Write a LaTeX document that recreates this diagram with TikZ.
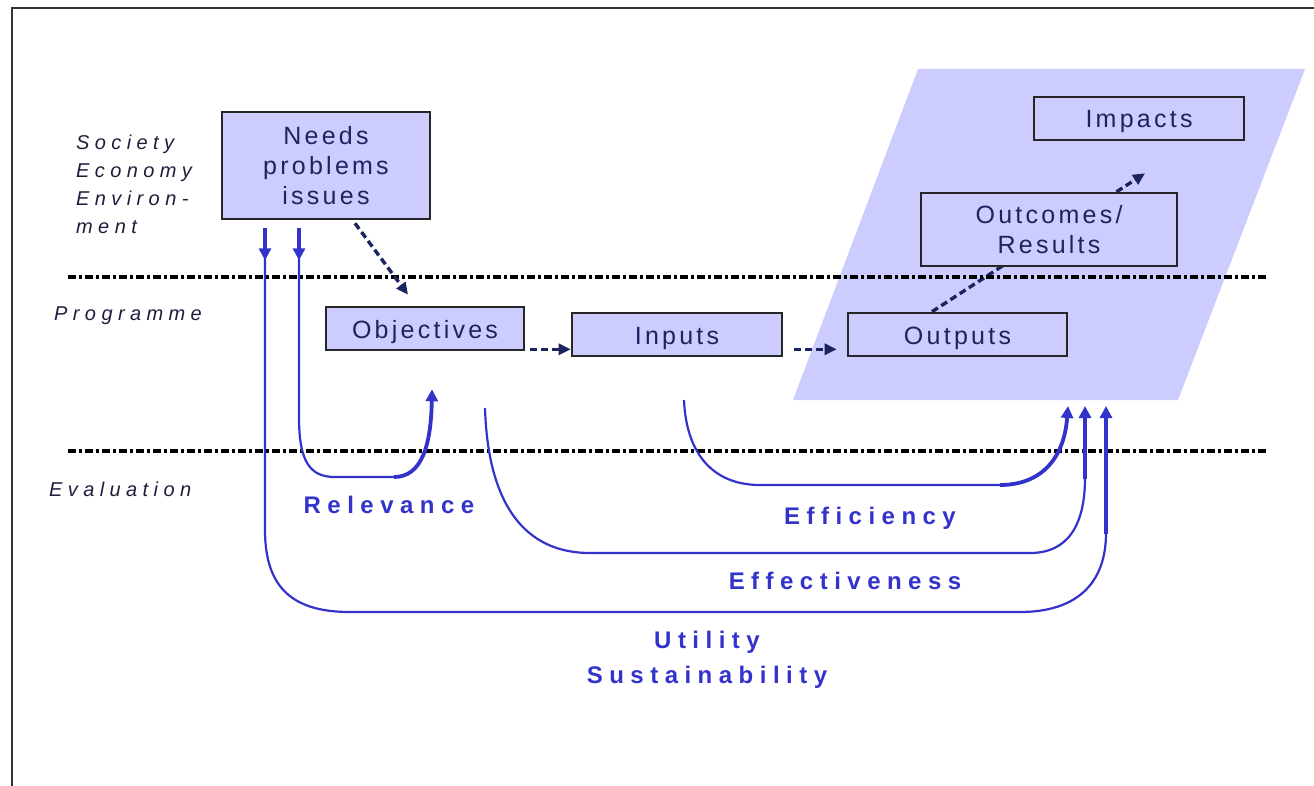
\documentclass[tikz,border=0pt]{standalone}
\usepackage{fontspec}
\usetikzlibrary{arrows.meta,backgrounds,calc}
\newfontfamily\boxfont[LetterSpace=13]{Liberation Sans}
\newfontfamily\labfont[LetterSpace=27]{Liberation Sans}
\newfontfamily\sidefont[LetterSpace=27]{Liberation Sans}
\definecolor{lav}{RGB}{204,204,255}
\definecolor{bl}{RGB}{51,51,204}
\definecolor{navy}{RGB}{28,36,96}
\definecolor{sidec}{RGB}{30,30,60}
\tikzset{
  box/.style={draw=black!85, line width=2.6pt, fill=lav, inner sep=0pt, align=center,
    text=navy, font=\boxfont\fontsize{25}{30}\selectfont},
  oneline/.style={text height=24pt, text depth=5pt},
  side/.style={inner sep=0pt, anchor=west, align=left, text=sidec,
    font=\sidefont\itshape\fontsize{20}{28}\selectfont},
  lab/.style={inner sep=0pt, align=center, text=bl,
    font=\labfont\bfseries\fontsize{24}{35}\selectfont},
  dasharrow/.style={draw=navy, line width=3.4pt, dash pattern=on 7pt off 4pt,
    -{Triangle[length=12pt,width=11pt]}},
  dashline/.style={draw=black, line width=3.4pt, dash pattern=on 8pt off 3pt on 3pt off 3pt},
  thinb/.style={draw=bl, line width=2.2pt},
  thickb/.style={draw=bl, line width=3.8pt},
  btip/.style={-{Triangle[length=12pt,width=12pt]}},
}
\begin{document}
\begin{tikzpicture}[x=1pt,y=-1pt]
\useasboundingbox (0,0) rectangle (1314,786);
% frame
\draw[line width=2.6pt, black!80] (12,786) -- (12,8) -- (1314,8);

% separator lines
\draw[dashline] (68,277) -- (1266,277);
\draw[dashline] (68,451) -- (1266,451);

% side labels
\node[side] (soc) at (76,184) {Society\\Economy\\Environ-\\ment};
\node[side] (prog) at (54,316) {Programme};
\node[side] (eval) at (49,489) {Evaluation};

% boxes
\node[box, minimum width=208pt, minimum height=107pt] (needs) at (326,165.5) {Needs\\problems\\issues};
\node[box, oneline, minimum width=198pt, minimum height=43pt] (obj) at (425,328.5) {Objectives};
\node[box, oneline, minimum width=210pt, minimum height=43pt] (inp) at (677,334.5) {Inputs};
\node[box, oneline, minimum width=219pt, minimum height=43pt] (out) at (957.5,334.5) {Outputs};
\node[box, minimum width=256pt, minimum height=73pt] (outc) at (1049,229.5) {Outcomes/\\Results};
\node[box, oneline, minimum width=210pt, minimum height=43pt] (imp) at (1139,118.5) {Impacts};

\begin{pgfonlayer}{background}
  \fill[lav] (918,69) -- (1305,69) -- (1178,400) -- (793,400) -- cycle;
  \draw[dasharrow] ([xshift=-25.5pt]out.north) -- ([xshift=6pt,yshift=-32pt]imp.south);
\end{pgfonlayer}

% dashed flow arrows
\draw[dasharrow] ([xshift=29pt,yshift=-3pt]needs.south) -- ([xshift=-17pt,yshift=11pt]obj.north);
\draw[dasharrow] ([xshift=5pt,yshift=2pt]obj.south east) -- ([yshift=8pt]inp.south west);
\draw[dasharrow] ([xshift=11pt,yshift=8pt]inp.south east) -- ([xshift=-10pt,yshift=8pt]out.south west);

% free ends of the evaluation arrows
\coordinate (effstart) at (684,400);
\coordinate (efvstart) at (485,408);
\coordinate (tipeff) at (1068,406);
\coordinate (tipefv) at (1085,406);
\coordinate (tiputil) at (1106,406);

% Utility / Sustainability
\draw[thickb, btip] ([xshift=-61pt,yshift=-8pt]needs.south) -- ++(0,32);
\draw[thinb] ([xshift=-61pt,yshift=-34pt]needs.south) -- (265,530)
  .. controls (265,590) and (295,612) .. (350,612) -- (1020,612)
  .. controls (1075,612) and (1106,585) .. (1106,533);
\draw[thickb, btip] (1106,534) -- (tiputil);

% Relevance
\draw[thickb, btip] ([xshift=-27pt,yshift=-8pt]needs.south) -- ++(0,32);
\draw[thinb] ([xshift=-27pt,yshift=-34pt]needs.south) -- (299,417)
  .. controls (299,462) and (310,477) .. (335,477) -- (395,477);
\draw[thickb, btip] (394,477) .. controls (422,477) and (431,445) .. ([xshift=7pt,yshift=-38pt]obj.south);

% Effectiveness
\draw[thinb] (efvstart) .. controls (488,505) and (525,553) .. (590,553) -- (1030,553)
  .. controls (1068,553) and (1085,525) .. (1085,478);
\draw[thickb, btip] (1085,479) -- (tipefv);

% Efficiency
\draw[thinb] (effstart) .. controls (686,450) and (710,485) .. (760,485) -- (1002,485);
\draw[thickb, btip] (1000,485) .. controls (1040,485) and (1064,460) .. (tipeff);

% labels
\node[lab] (rel) at (389,505) {Relevance};
\node[lab] (effl) at (870,518) {Efficiency};
\node[lab] (efvl) at (845,581) {Effectiveness};
\node[lab] (util) at (707,660) {Utility\\Sustainability};
\end{tikzpicture}
\end{document}
